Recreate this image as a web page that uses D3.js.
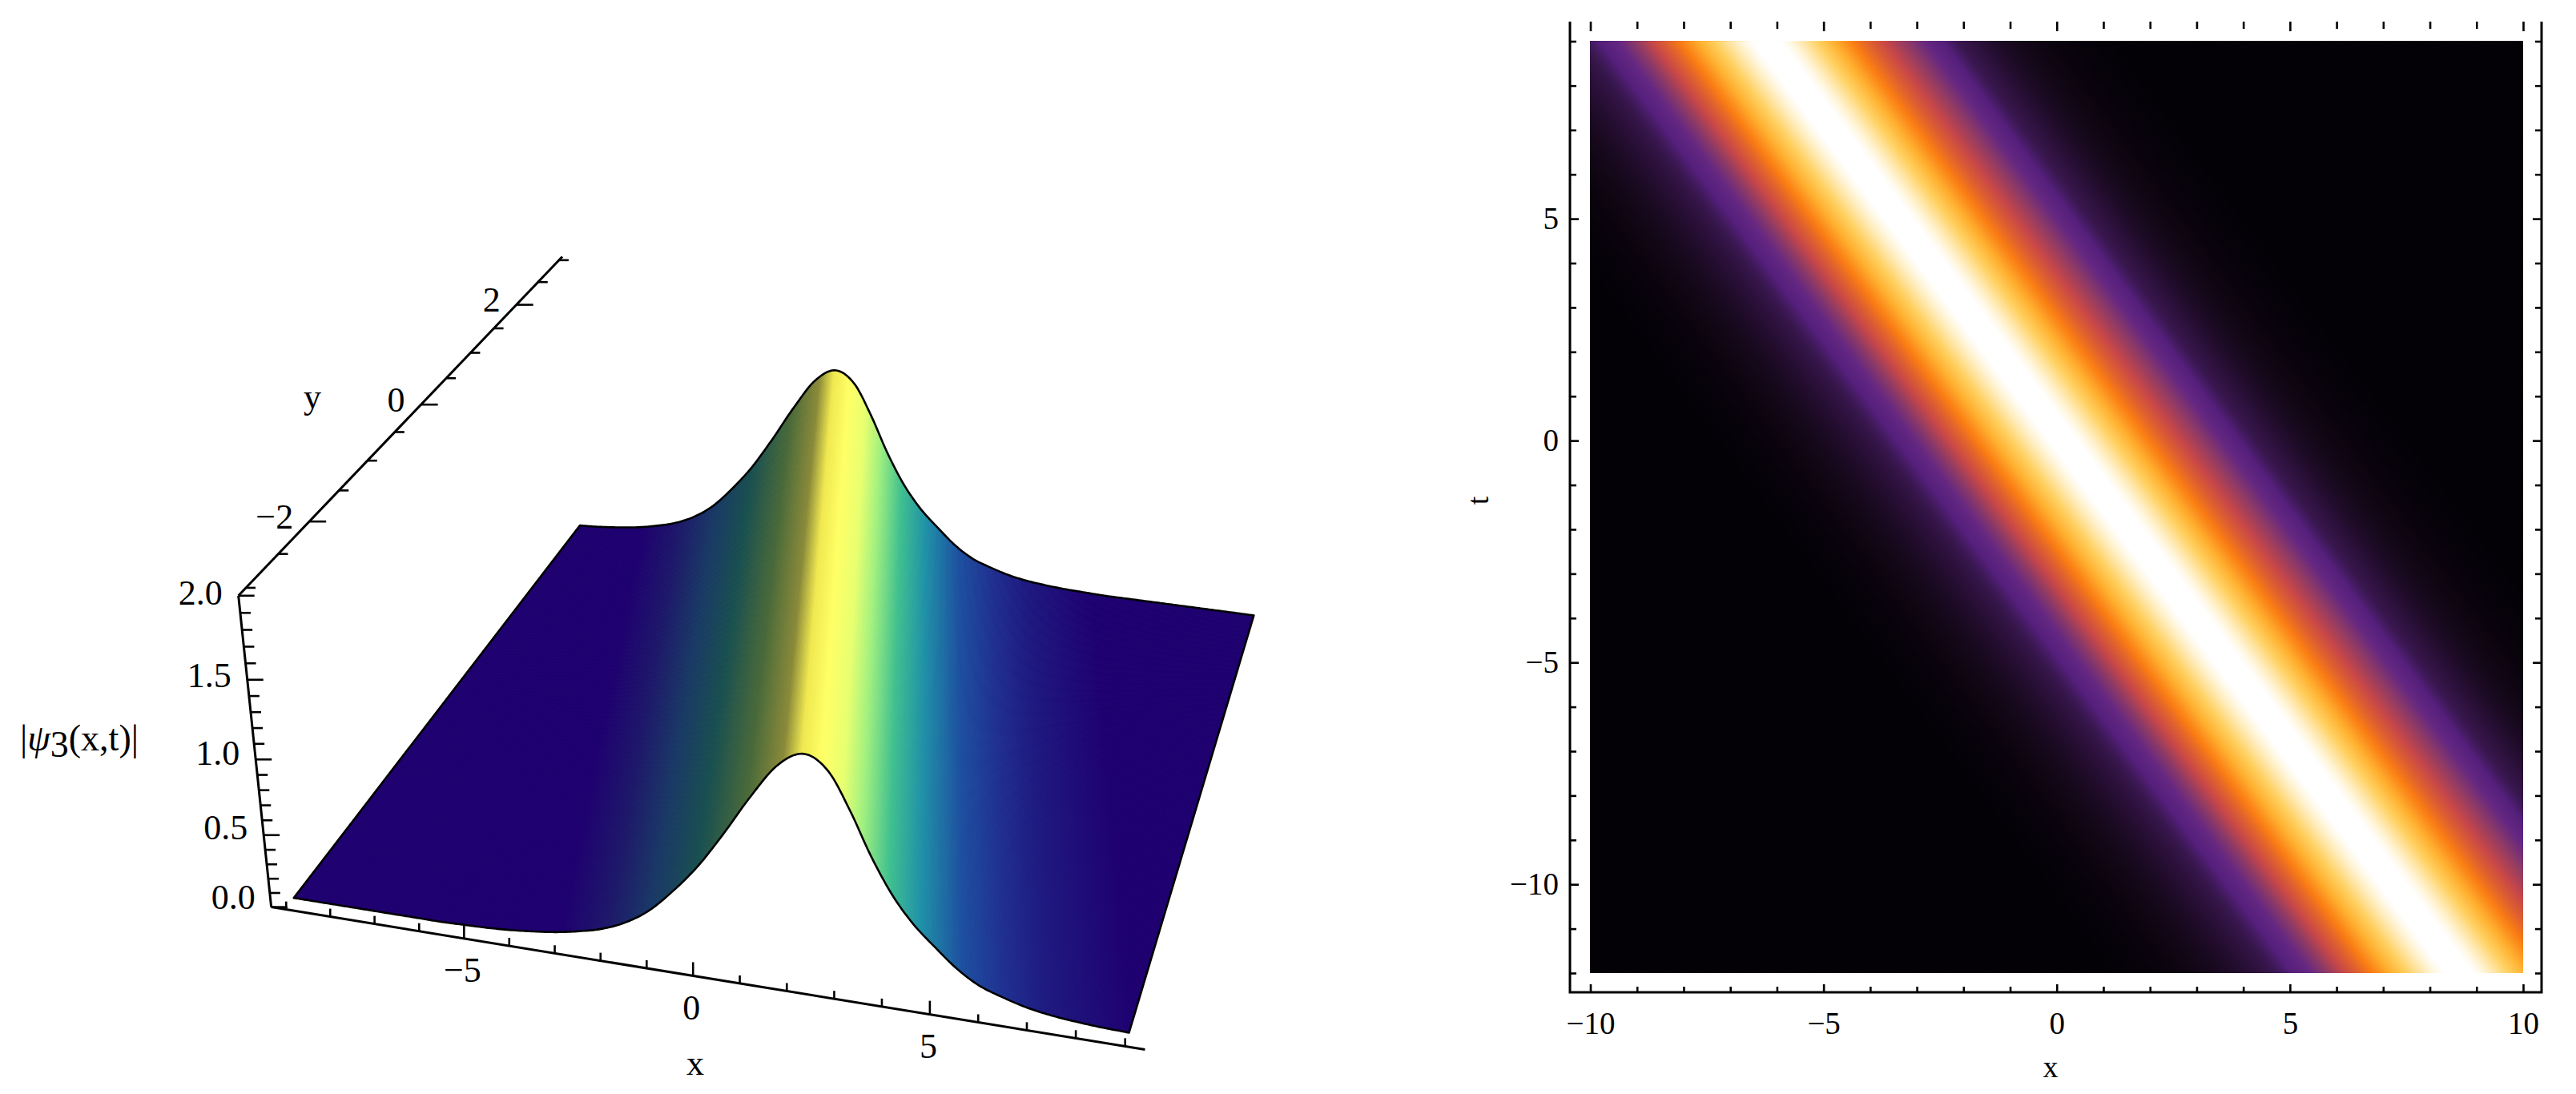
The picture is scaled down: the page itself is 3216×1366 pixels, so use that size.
<!DOCTYPE html>
<html><head><meta charset="utf-8">
<script src="https://cdn.jsdelivr.net/npm/d3@7"></script>
<style>
html,body{margin:0;padding:0;background:#fff}
svg{display:block}
text{font-family:"Liberation Serif",serif;fill:#000}
</style></head><body>
<script>
// ---------- data ----------
const profileStart = -8, profileStep = 0.5;
const profileAmp = [.01,.01,.015,.02,.03,.045,.065,.095,.135,.2,.3,.45,.63,.855,1.1,1.31,1.4,1.325,1.115,.865,.65,.485,.36,.245,.16,.11,.07,.045,.03,.02,.015,.01,.01];
const ridgeSlope = 0.707, heatOffset = 0.1, surfOffset = -0.25;

const heatStops  = [0,.012,.045,.1,.145,.19,.26,.35,.47,.70,.88,1.06,1.27,1.37,1.4];
const heatColors = ["#000000","#050208","#140818","#2a1038","#3a1850","#55207c","#652882","#8c3a68","#c84848","#fa7d14","#ffb030","#ffd060","#fff0c8","#ffffff","#ffffff"];

const surfU      = [-12,-4.9,-3.82,-2.89,-1.96,-1.04,-.38,-.02,.36,.82,1.29,1.93,2.67,3.6,4.53,5.45,7.3,12];
const surfColors = ["#1f0070","#1f0070","#1e1a6a","#1a3a66","#1a5050","#4a6a3a","#8a8a3a","#f0e850","#ffff66","#e8ff70","#a0f080","#40c090","#2090a8","#1e50a0","#203090","#1f1a80","#1f0070","#1f0070"];

const heatXMajor = [-10,-5,0,5,10], heatXMinor = [-9,-8,-7,-6,-4,-3,-2,-1,1,2,3,4,6,7,8,9];
const heatTMajor = [-10,-5,0,5],    heatTMinor = [-12,-11,-9,-8,-7,-6,-4,-3,-2,-1,1,2,3,4,6,7,8,9];

const xTicks3D = d3.range(-9,10), xLabels3D = [-5,0,5];
const yTicks3D = d3.range(-3,3.01,.5), yLabels3D = [-2,0,2];
const zTicks3D = d3.range(0,2.01,.1).map(v=>+v.toFixed(1)), zLabels3D = [0,.5,1,1.5,2];

const fmt = v => String(v).replace("-","\u2212");

// ---------- profile lookup ----------
function amp(u){
  const p=(u-profileStart)/profileStep, n=profileAmp.length;
  if(p<=0) return profileAmp[0]; if(p>=n-1) return profileAmp[n-1];
  const i=Math.floor(p), f=p-i, g=j=>profileAmp[Math.max(0,Math.min(n-1,j))];
  const a=g(i-1),b=g(i),c=g(i+1),d=g(i+2);
  return .5*((2*b)+(c-a)*f+(2*a-5*b+4*c-d)*f*f+(3*b-a-3*c+d)*f*f*f);
}

const svg=d3.select("body").append("svg").attr("width",3216).attr("height",1366);
svg.append("rect").attr("width",3216).attr("height",1366).attr("fill","#fff");

// ---------- right panel: density ----------
const xS=d3.scaleLinear().domain([-10,10]).range([1985.5,3150]);
const tS=d3.scaleLinear().domain([-12,9]).range([1215,51.5]);
const heatColor=d3.scaleLinear().domain(heatStops).range(heatColors).clamp(true);

const right=svg.append("g");
right.append("clipPath").attr("id","heatClip").append("rect")
  .attr("x",xS(-10)).attr("y",tS(9)).attr("width",xS(10)-xS(-10)).attr("height",tS(-12)-tS(9));
const heatG=right.append("g").attr("clip-path","url(#heatClip)");
const hx=(u,t)=>u-ridgeSlope*t+heatOffset;
heatG.selectAll("path").data(d3.range(-20,18,.03)).join("path")
  .attr("fill",u=>heatColor(amp(u)))
  .attr("d",u=>`M${xS(hx(u,9))},${tS(9)}L${xS(hx(u,-12))},${tS(-12)}L3300,${tS(-12)}L3300,${tS(9)}Z`);

const frame={l:1960,r:3173,t:27,b:1239};
function styleAxis(g){g.selectAll("path.domain").remove();g.selectAll("line").attr("stroke","#000").attr("stroke-width",2.6);
  g.selectAll("text").attr("font-size",39).attr("font-family","Liberation Serif");}
right.append("g").attr("transform",`translate(0,${frame.b})`).call(d3.axisBottom(xS).tickValues(heatXMajor).tickSize(-10).tickFormat(fmt).tickPadding(24)).call(styleAxis);
right.append("g").attr("transform",`translate(0,${frame.b})`).call(d3.axisBottom(xS).tickValues(heatXMinor).tickSize(-7).tickFormat("")).call(styleAxis);
right.append("g").attr("transform",`translate(0,${frame.t})`).call(d3.axisTop(xS).tickValues(heatXMajor).tickSize(-12).tickFormat("")).call(styleAxis);
right.append("g").attr("transform",`translate(0,${frame.t})`).call(d3.axisTop(xS).tickValues(heatXMinor).tickSize(-9).tickFormat("")).call(styleAxis);
right.append("g").attr("transform",`translate(${frame.l},0)`).call(d3.axisLeft(tS).tickValues(heatTMajor).tickSize(-11).tickFormat(fmt).tickPadding(14)).call(styleAxis);
right.append("g").attr("transform",`translate(${frame.l},0)`).call(d3.axisLeft(tS).tickValues(heatTMinor).tickSize(-8).tickFormat("")).call(styleAxis);
right.append("g").attr("transform",`translate(${frame.r},0)`).call(d3.axisRight(tS).tickValues(heatTMajor).tickSize(-11).tickFormat("")).call(styleAxis);
right.append("g").attr("transform",`translate(${frame.r},0)`).call(d3.axisRight(tS).tickValues(heatTMinor).tickSize(-8).tickFormat("")).call(styleAxis);
right.append("path").attr("fill","none").attr("stroke","#000").attr("stroke-width",3)
  .attr("d",`M${frame.l},${frame.t}V${frame.b}H${frame.r}V${frame.t}`);
right.append("text").attr("x",2560).attr("y",1345).attr("text-anchor","middle").attr("font-size",38).text("x");
right.append("text").attr("transform","translate(1858,625) rotate(-90)").attr("text-anchor","middle").attr("font-size",38).text("t");

// ---------- left panel: 3D surface ----------
const sS=d3.scaleLinear().domain([-9,9]).range([0,1]);
const rS=d3.scaleLinear().domain([-3,3]).range([0,1]);
const [p0,p1,p2,p3]=[[367,1123],[1409,1292],[1565,770],[724,659]];
const dx1=p1[0]-p2[0],dx2=p3[0]-p2[0],sx=p0[0]-p1[0]+p2[0]-p3[0];
const dy1=p1[1]-p2[1],dy2=p3[1]-p2[1],sy=p0[1]-p1[1]+p2[1]-p3[1];
const den=dx1*dy2-dx2*dy1;
const G=(sx*dy2-dx2*sy)/den,H=(dx1*sy-sx*dy1)/den;
const A=p1[0]-p0[0]+G*p1[0],B=p3[0]-p0[0]+H*p3[0],D=p1[1]-p0[1]+G*p1[1],E=p3[1]-p0[1]+H*p3[1];
const Zx=-35,Zy=-230,Zw=-0.049;
function proj(x,y,z){const s=sS(x),r=rS(y),w=G*s+H*r+1+Zw*z;
  return [(A*s+B*r+p0[0]+Zx*z)/w,(D*s+E*r+p0[1]+Zy*z)/w,w];}
// surface point: the near edge stands a little taller on screen than the camera alone gives
const surfPt=(x,y,z)=>proj(x,y,z*(1+.055*(3-y)/6));
const left=svg.append("g");
const line=d3.line();

const surfColor=d3.scaleLinear().domain(surfU).range(surfColors);
const edgeXs=d3.range(-9,9.001,.05);
const uOf=(x,y)=>x+ridgeSlope*y-surfOffset;
const sx3=(u,y)=>u-ridgeSlope*y+surfOffset;
const front=edgeXs.map(x=>surfPt(x,-3,amp(uOf(x,-3))));
const back=edgeXs.slice().reverse().map(x=>surfPt(x,3,amp(uOf(x,3))));
const outline=front.concat(back).map(p=>[p[0],p[1]]);
left.append("clipPath").attr("id","surfClip").append("path").attr("d",line(outline)+"Z");
const du=.04;
const strips=d3.range(-12,12,du).map(u=>{
  const a=surfPt(sx3(u,-3),-3,amp(u)),b=surfPt(sx3(u,3),3,amp(u)),
        c=surfPt(sx3(u+du,3),3,amp(u+du)),d=surfPt(sx3(u+du,-3),-3,amp(u+du));
  return {u,pts:[a,b,c,d],w:(a[2]+b[2]+c[2]+d[2])/4};
}).sort((m,n)=>d3.descending(m.w,n.w));
left.append("g").attr("clip-path","url(#surfClip)").selectAll("path").data(strips).join("path")
  .attr("fill",d=>surfColor(d.u+du/2)).attr("stroke",d=>surfColor(d.u+du/2)).attr("stroke-width",1)
  .attr("d",d=>line(d.pts.map(p=>[p[0],p[1]]))+"Z");
left.append("path").attr("fill","none").attr("stroke","#000").attr("stroke-width",2.6)
  .attr("stroke-linejoin","round").attr("d",line(outline)+"Z");

// axes of the box
const ax={x:-9.34,y:-3.13,z0:0,zTop:2};
const yAxisScale=d3.scaleLinear().domain([-3,3]).range([-3.02,2.8]);
function axisLine(a,b){left.append("path").attr("fill","none").attr("stroke","#000").attr("stroke-width",3).attr("d",line([a,b].map(p=>[p[0],p[1]])));}
axisLine(proj(ax.x,ax.y,ax.z0),proj(9.4,ax.y,ax.z0));
axisLine(proj(ax.x,ax.y,ax.z0),proj(ax.x,ax.y,ax.zTop));
axisLine(proj(ax.x,ax.y,ax.zTop),proj(ax.x,yAxisScale(3.08),ax.zTop));
function ticks(vals,major,f,dx,dy,lenMajor,lenMinor){
  left.append("g").selectAll("line").data(vals).join("line")
    .attr("stroke","#000").attr("stroke-width",2.6)
    .attr("x1",v=>f(v)[0]).attr("y1",v=>f(v)[1])
    .attr("x2",v=>f(v)[0]+dx*(major.includes(v)?lenMajor:lenMinor))
    .attr("y2",v=>f(v)[1]+dy*(major.includes(v)?lenMajor:lenMinor));
}
const fX=v=>proj(v,ax.y,ax.z0), fY=v=>proj(ax.x,yAxisScale(v),ax.zTop), fZ=v=>proj(ax.x,ax.y,v);
ticks(xTicks3D,xLabels3D,fX,0,-1,17,10);
ticks(yTicks3D,yLabels3D,fY,1,0,21,12);
ticks(zTicks3D,zLabels3D,fZ,1,0,20,13);
const labelG=left.append("g").attr("font-size",44).attr("dominant-baseline","central");
labelG.selectAll("text.x").data(xLabels3D).join("text").attr("class","x").attr("text-anchor","middle")
  .attr("x",v=>fX(v)[0]-2).attr("y",v=>fX(v)[1]+40).text(fmt);
labelG.selectAll("text.y").data(yLabels3D).join("text").attr("class","y").attr("text-anchor","end")
  .attr("x",v=>fY(v)[0]-20).attr("y",v=>fY(v)[1]-6).text(fmt);
labelG.selectAll("text.z").data(zLabels3D).join("text").attr("class","z").attr("text-anchor","end")
  .attr("x",v=>fZ(v)[0]-20).attr("y",v=>fZ(v)[1]-12+4.5*v).text(v=>v.toFixed(1));
left.append("text").attr("x",868).attr("y",1342).attr("text-anchor","middle").attr("font-size",44).text("x");
left.append("text").attr("x",390).attr("y",510).attr("text-anchor","middle").attr("font-size",44).text("y");
const zl=left.append("text").attr("x",25).attr("y",937).attr("font-size",46);
zl.append("tspan").text("|");
zl.append("tspan").attr("font-style","italic").text("\u03C8");
zl.append("tspan").attr("dy",8).text("3");
zl.append("tspan").attr("dy",-8).text("(x,t)|");
</script>
</body></html>
